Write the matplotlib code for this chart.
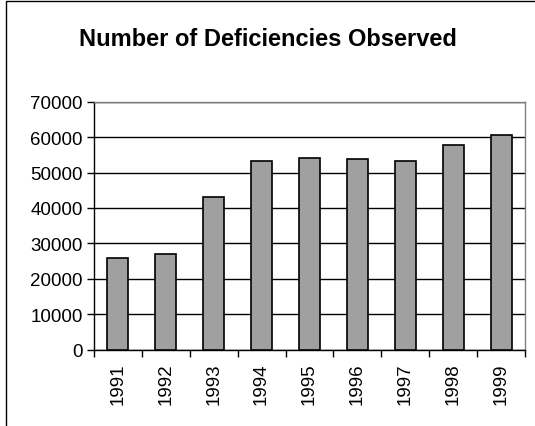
import matplotlib
matplotlib.use("Agg")
import matplotlib.pyplot as plt
import numpy as np
from matplotlib.patches import Rectangle

# data
years = ["1991", "1992", "1993", "1994", "1995", "1996", "1997", "1998", "1999"]
deficiencies = [25800, 27100, 43000, 53300, 54200, 53700, 53300, 57700, 60700]
title = "Number of Deficiencies Observed"

plt.rcParams['font.family'] = ['Liberation Sans', 'DejaVu Sans']

fig = plt.figure(figsize=(5.35, 4.27), dpi=100)
ax = fig.add_axes([0.1757, 0.1787, 0.8056, 0.5808])

x = np.arange(len(years))
ax.bar(x, deficiencies, width=0.44, color='#A0A0A0', edgecolor='black',
       linewidth=1.2, zorder=3)

ax.set_ylim(0, 70000)
ax.set_xlim(-0.5, len(years) - 0.5)
ax.set_yticks(range(0, 70001, 10000))
ax.set_yticklabels([str(v) for v in range(0, 70001, 10000)], fontsize=13.5)
ax.yaxis.grid(True, color='black', linewidth=1.0, zorder=0)

# category labels under the bars, tick marks between categories
ax.set_xticks(x)
ax.set_xticklabels(years, rotation=90, fontsize=13.5)
ax.tick_params(axis='x', which='major', length=0, pad=9)
ax.set_xticks(np.arange(-0.5, len(years)), minor=True)
ax.tick_params(axis='x', which='minor', length=5, width=1.0, direction='out')
ax.tick_params(axis='y', length=5, width=1.0, direction='out', pad=3)

ax.spines['left'].set_color('black')
ax.spines['bottom'].set_color('black')
ax.spines['top'].set_color('#808080')
ax.spines['right'].set_color('#808080')
for s in ax.spines.values():
    s.set_linewidth(1.0)

fig.text(0.5 * (75 + 460) / 535, 1 - 40 / 427, title, ha='center', va='center',
         fontsize=17, fontweight='bold')

# outer chart border (only left and top visible in the crop)
fig.patches.append(Rectangle((5.5 / 535, -0.1), 1.2, 1.1 - 2.5 / 427,
                             transform=fig.transFigure, fill=False,
                             edgecolor='black', linewidth=1.0))

plt.savefig("out.png", dpi=100)
